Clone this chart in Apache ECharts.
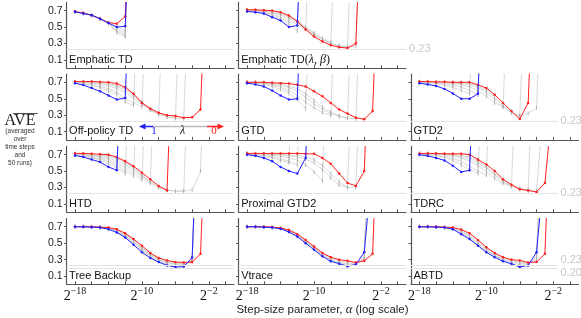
<!DOCTYPE html>
<html><head><meta charset="utf-8">
<script src="https://cdn.jsdelivr.net/npm/echarts@6/dist/echarts.min.js"></script>
<style>html,body{margin:0;padding:0;background:#fff}#c{width:581px;height:318px}</style>
</head><body><div id="c"></div>
<script>
// ---------- data (log2 step size starts at -18, one point per power of two; 3 / 1.5 = diverged) ----------
const xStart = -18;
const xTicks = [-18,-16,-14,-12,-10,-8,-6,-4,-2,0];
const xLabelTicks = [-18,-10,-2];
const yTicks = [0.1,0.3,0.5,0.7];
const refLines = [0.23, 0.20];
const panelNames = ['Emphatic TD','Emphatic TD(λ, β)','Off-policy TD','GTD','GTD2','HTD','Proximal GTD2','TDRC','Tree Backup','Vtrace','ABTD'];

const empTD_blue = [.685,.665,.645,.60,.55,.50,.51,3];
const empTD_red  = [.69,.67,.645,.60,.555,.54,.63,3];
const empTD_gray = [
  [.685,.667,.645,.60,.55,.50,.46,3],
  [.685,.667,.643,.598,.545,.47,.43,3],
  [.685,.666,.642,.597,.54,.45,.40,3],
  [.685,.668,.646,.602,.552,.43,.38,3]];

const empLB_blue = [.69,.68,.665,.62,.58,.50,.52,3];
const empLB_red  = [.71,.71,.705,.70,.68,.64,.57,.47,.385,.325,.28,.255,.245,.30,3];
const empLB_gray = [
  [.695,.685,.67,.64,.60,.54,.45,3],
  [.70,.695,.68,.655,.62,.575,.53,.47,3],
  [.705,.70,.69,.67,.645,.61,.555,.48,.41,.35,.30,3],
  [.705,.70,.695,.68,.66,.625,.57,.49,.42,.355,.30,.27,.255,3],
  [.71,.705,.70,.69,.67,.635,.58,.50,.43,.365,.31,.275,.26,.265,3]];

const offTD_blue = [.69,.667,.63,.59,.54,.49,.51,3];
const offTD_red  = [.71,.71,.71,.705,.70,.685,.64,.56,.45,.38,.33,.30,.29,.27,.275,.37,3];
const offTD_gray = [
  [.70,.685,.665,.635,.595,.55,.46,.42,3],
  [.70,.69,.675,.65,.62,.58,.50,.45,.40,3],
  [.705,.70,.69,.675,.655,.625,.575,.505,.43,.36,.31,3],
  [.705,.70,.695,.69,.675,.65,.605,.535,.45,.37,.31,.28,.26,3],
  [.71,.705,.70,.695,.685,.665,.625,.555,.46,.38,.32,.285,.265,.255,3]];

const gtd_blue = [.69,.675,.65,.60,.54,.49,.50,3];
const gtd_red  = [.70,.70,.70,.695,.69,.685,.67,.65,.59,.53,.45,.37,.32,.27,.25,.35,3];
const gtd_gray = [
  [.70,.69,.675,.65,.615,.565,.49,.38,3],
  [.70,.695,.685,.665,.64,.60,.54,.46,.39,.33,.30,3],
  [.70,.70,.69,.68,.66,.635,.59,.52,.44,.37,.32,.285,.265,3],
  [.70,.70,.695,.69,.675,.655,.62,.56,.48,.40,.34,.295,.265,.255,3]];

const gtd2_blue = [.69,.675,.655,.62,.565,.50,.50,.56,3];
const gtd2_red  = [.71,.71,.705,.705,.70,.70,.70,.67,.63,.55,.45,.35,.255,.45,3];
const gtd2_gray = [
  [.70,.69,.68,.665,.64,.60,.56,3],
  [.70,.695,.69,.68,.665,.64,.60,.55,3],
  [.705,.70,.70,.695,.685,.67,.645,.60,.53,.45,.40,3],
  [.705,.705,.70,.70,.695,.685,.67,.635,.575,.49,.40,.33,.30,3],
  [.71,.705,.70,.70,.70,.695,.685,.655,.60,.52,.42,.33,.29,.32,.39,3]];

const htd_blue = [.69,.67,.64,.61,.55,.51,3];
const htd_red  = [.715,.715,.71,.705,.70,.67,.62,.56,.48,.40,.32,.265,3];
const htd_gray = [
  [.70,.685,.66,.635,.59,.54,.47,3],
  [.70,.69,.67,.65,.615,.565,.505,.44,3],
  [.705,.695,.68,.665,.64,.595,.54,.47,.39,3],
  [.71,.70,.69,.68,.66,.625,.575,.505,.42,.35,3],
  [.71,.705,.70,.69,.68,.65,.60,.53,.44,.36,.30,.265,.255,.26,3],
  [.71,.705,.70,.695,.685,.66,.615,.545,.455,.37,.305,.27,.255,.255,.27,.50,3]];

const pgtd2_blue = [.70,.685,.66,.62,.55,.50,.47,.66,3];
const pgtd2_red  = [.715,.715,.715,.715,.715,.715,.715,.71,.71,.66,.59,.47,.355,.32,.50,3];
const pgtd2_gray = [
  [.705,.695,.68,.66,.63,.60,3],
  [.71,.70,.69,.675,.65,.62,.575,3],
  [.71,.705,.70,.69,.68,.66,.63,.575,.49,.38,3],
  [.715,.71,.705,.70,.695,.685,.67,.645,.60,.52,.42,.33,.30,3],
  [.715,.71,.71,.705,.70,.70,.69,.675,.64,.57,.47,.37,.30,.30,3]];

const tdrc_blue = [.70,.685,.66,.63,.565,.49,.51,3];
const tdrc_red  = [.715,.715,.715,.71,.71,.71,.70,.64,.58,.50,.40,.335,.28,.265,.245,.355,1.4];
const tdrc_gray = [
  [.705,.70,.69,.67,.63,.575,.52,.47,3],
  [.71,.705,.695,.68,.655,.615,.56,.50,.45,3],
  [.71,.71,.705,.70,.685,.66,.625,.565,.49,.41,.35,.31,3],
  [.715,.71,.705,.70,.695,.68,.655,.60,.53,.45,.37,.315,.285,.265,3],
  [.715,.71,.71,.705,.70,.69,.67,.62,.55,.46,.38,.32,.28,.26,.26,1.5]];

const tb_blue = [.70,.70,.695,.69,.67,.63,.57,.48,.39,.32,.27,.23,.21,.215,.325,3];
const tb_red  = [.70,.70,.70,.695,.69,.67,.62,.55,.47,.38,.32,.29,.27,.265,.27,.37,3];
const tb_gray = [
  [.70,.70,.697,.69,.675,.64,.58,.50,.41,.335,.28,.245,.225,.225,.30,3],
  [.70,.70,.698,.692,.68,.65,.59,.515,.425,.35,.29,.26,.24,.24,.29,3],
  [.70,.70,.699,.693,.683,.655,.60,.53,.44,.36,.30,.27,.25,.25,.28,3],
  [.70,.70,.70,.694,.686,.662,.61,.54,.455,.37,.31,.28,.26,.26,.275,3]];

const vt_blue = [.70,.70,.695,.69,.675,.635,.58,.50,.42,.34,.28,.25,.22,.24,.39,1.5];
const vt_red  = [.70,.70,.70,.695,.685,.66,.61,.54,.46,.38,.33,.30,.285,.265,.285,.37,3];
const vt_gray = [
  [.70,.70,.697,.69,.678,.64,.59,.51,.43,.35,.29,.26,.235,.245,.34,3],
  [.70,.70,.698,.692,.68,.645,.595,.52,.44,.36,.30,.27,.25,.25,.31,3],
  [.70,.70,.699,.693,.682,.65,.60,.53,.45,.37,.315,.285,.265,.255,.30,3]];

const abtd_blue = [.70,.70,.695,.69,.67,.61,.55,.47,.39,.33,.28,.25,.21,.23,.39,1.5];
const abtd_red  = [.70,.70,.70,.695,.69,.665,.62,.54,.45,.38,.33,.30,.29,.265,.27,.37,3];
const abtd_gray = [
  [.70,.70,.697,.69,.675,.625,.565,.485,.405,.345,.295,.265,.235,.24,.34,3],
  [.70,.70,.698,.692,.68,.64,.58,.50,.42,.355,.305,.28,.255,.25,.31,3],
  [.70,.70,.699,.693,.685,.65,.60,.52,.435,.365,.315,.29,.27,.26,.29,3]];

const blues = [empTD_blue,empLB_blue,offTD_blue,gtd_blue,gtd2_blue,htd_blue,pgtd2_blue,tdrc_blue,tb_blue,vt_blue,abtd_blue];
const reds  = [empTD_red,empLB_red,offTD_red,gtd_red,gtd2_red,htd_red,pgtd2_red,tdrc_red,tb_red,vt_red,abtd_red];
const grays = [empTD_gray,empLB_gray,offTD_gray,gtd_gray,gtd2_gray,htd_gray,pgtd2_gray,tdrc_gray,tb_gray,vt_gray,abtd_gray];

// ---------- layout ----------
const panelCol = [0,1,0,1,2,0,1,2,0,1,2];
const panelRow = [0,0,1,1,1,2,2,2,3,3,3];
const colLeft = [66.6, 238.7, 411];
const gridW = 167.4;
const rowBottom = [68.2, 139.9, 212.2, 284.3];
const gridH = 65.8;
const AX = '#555';
const SANS = 'Liberation Sans';
const SERIF = 'Liberation Serif';

const toPairs = arr => arr.map((v,i) => [xStart + i, v]);

const grid = [], xAxis = [], yAxis = [], series = [], graphic = [];
for (let p = 0; p < panelNames.length; p++) {
  const c = panelCol[p], r = panelRow[p];
  grid.push({left: colLeft[c], top: rowBottom[r] - gridH, width: gridW, height: gridH, containLabel: false, outerBoundsMode: 'none'});
  xAxis.push({
    type: 'value', gridIndex: p, min: -19, max: 1,
    axisLine: {show: true, onZero: false, lineStyle: {color: AX, width: 1.2}},
    axisTick: {show: true, customValues: xTicks, inside: true, length: 3, lineStyle: {color: AX, width: 1}},
    splitLine: {show: false},
    axisLabel: {
      show: r === 3, customValues: xLabelTicks, margin: 3,
      formatter: v => '{b|2}{s|−' + Math.abs(v) + '}',
      rich: {
        b: {fontFamily: SERIF, fontSize: 14, color: '#111', verticalAlign: 'bottom', lineHeight: 16},
        s: {fontFamily: SERIF, fontSize: 10, color: '#111', verticalAlign: 'bottom', lineHeight: 16, padding: [0,0,7,0]}
      }
    }
  });
  yAxis.push({
    type: 'value', gridIndex: p, min: 0, max: 0.8,
    axisLine: {show: true, onZero: false, lineStyle: {color: AX, width: 1.2}},
    axisTick: {show: true, customValues: yTicks, length: 2.5, lineStyle: {color: AX, width: 1}},
    splitLine: {show: false},
    axisLabel: {show: c === 0, customValues: yTicks, formatter: v => v.toFixed(1), fontFamily: SANS, fontSize: 10.5, color: '#222', margin: 4}
  });

  const refs = r === 3 ? refLines : [refLines[0]];
  const labelled = (c === 2) || (p === 1);
  const xEnd = c === 2 ? -1.5 : 1;
  const mlData = refs.map((rv, j) => {
    let fmt = rv.toFixed(2);
    if (refs.length === 2) fmt = j === 0 ? fmt + '\n ' : ' \n' + fmt;
    return [
      {coord: [-19, rv]},
      {coord: [xEnd, rv], label: {
        show: labelled, position: 'end', distance: 3, formatter: fmt,
        color: '#c8c8c8', fontFamily: SANS, fontSize: 11, lineHeight: 10
      }}
    ];
  });

  grays[p].forEach((g, k) => {
    const s = {
      type: 'line', xAxisIndex: p, yAxisIndex: p, data: toPairs(g),
      symbol: 'rect', symbolSize: [0.8, 4], showSymbol: true, showAllSymbol: true,
      lineStyle: {color: '#c8c8c8', width: 0.7}, itemStyle: {color: '#a8a8a8'},
      z: 2, silent: true, clip: true, animation: false
    };
    if (k === 0) s.markLine = {
      silent: true, symbol: ['none','none'], animation: false,
      lineStyle: {color: '#e3e3e3', width: 1, type: 'solid'},
      label: {show: false}, emphasis: {disabled: true}, data: mlData
    };
    series.push(s);
  });
  series.push({type: 'line', xAxisIndex: p, yAxisIndex: p, data: toPairs(reds[p]),
    symbol: 'circle', symbolSize: 2.5, showAllSymbol: true,
    lineStyle: {color: '#ff2020', width: 1}, itemStyle: {color: '#ff2020'},
    z: 3, silent: true, clip: true, animation: false});
  series.push({type: 'line', xAxisIndex: p, yAxisIndex: p, data: toPairs(blues[p]),
    symbol: 'circle', symbolSize: 2.5, showAllSymbol: true,
    lineStyle: {color: '#2020ff', width: 1}, itemStyle: {color: '#2020ff'},
    z: 4, silent: true, clip: true, animation: false});

  // panel name
  const txt = p === 1 ? '{n|Emphatic TD}{p|(}{m|λ, β}{p|)}' : panelNames[p];
  graphic.push({type: 'text', x: colLeft[c] + 2.5, y: rowBottom[r] - 8.5, z: 10, silent: true,
    style: {text: txt, fill: '#111', font: '11px "' + SANS + '"', align: 'left', verticalAlign: 'middle',
      rich: {n: {fontFamily: SANS, fontSize: 11, fill: '#111'}, p: {fontFamily: SERIF, fontSize: 12, fill: '#111'}, m: {fontFamily: SERIF, fontStyle: 'italic', fontSize: 12, fill: '#111'}}}});
}

// lambda annotation in Off-policy TD panel
const ay = 126.5;
graphic.push({type: 'line', shape: {x1: 152, y1: ay, x2: 208, y2: ay}, style: {stroke: '#bdbdbd', lineWidth: 1.5}, silent: true});
graphic.push({type: 'line', shape: {x1: 143, y1: ay, x2: 153, y2: ay}, style: {stroke: '#2020ff', lineWidth: 1.5}, silent: true});
graphic.push({type: 'polygon', shape: {points: [[139, ay], [145.5, ay - 3], [145.5, ay + 3]]}, style: {fill: '#2020ff'}, silent: true});
graphic.push({type: 'line', shape: {x1: 207, y1: ay, x2: 219, y2: ay}, style: {stroke: '#ff2020', lineWidth: 1.5}, silent: true});
graphic.push({type: 'polygon', shape: {points: [[224, ay], [217.5, ay - 3], [217.5, ay + 3]]}, style: {fill: '#ff2020'}, silent: true});
graphic.push({type: 'text', x: 154, y: 131, style: {text: '1', fill: '#2020ff', font: '11px "' + SERIF + '"', align: 'center', verticalAlign: 'middle'}, silent: true});
graphic.push({type: 'text', x: 182.5, y: 131, style: {text: 'λ', fill: '#222', font: 'italic 12px "' + SERIF + '"', align: 'center', verticalAlign: 'middle'}, silent: true});
graphic.push({type: 'text', x: 214, y: 131, style: {text: '0', fill: '#ff2020', font: '11px "' + SERIF + '"', align: 'center', verticalAlign: 'middle'}, silent: true});

// y-axis title
graphic.push({type: 'text', x: 20, y: 121, style: {text: 'AVE', fill: '#222', font: '16px "' + SERIF + '"', align: 'center', verticalAlign: 'middle'}, silent: true});
graphic.push({type: 'line', shape: {x1: 13, y1: 113.5, x2: 37.5, y2: 113.5}, style: {stroke: '#222', lineWidth: 0.8}, silent: true});
['(averaged', 'over', 'time steps', 'and', '50 runs)'].forEach((t, i) => {
  graphic.push({type: 'text', x: 20, y: 131 + 8 * i, style: {text: t, fill: '#333', font: '6.5px "' + SANS + '"', align: 'center', verticalAlign: 'middle'}, silent: true});
});
// x-axis title
graphic.push({type: 'text', x: 322.5, y: 309.5, silent: true, style: {
  text: '{n|Step-size parameter, }{m|α}{n| (log scale)}', align: 'center', verticalAlign: 'middle',
  rich: {n: {fontFamily: SANS, fontSize: 11.5, fill: '#222'}, m: {fontFamily: SERIF, fontStyle: 'italic', fontSize: 12.5, fill: '#222'}}}});

const chart = echarts.init(document.getElementById('c'), null, {renderer: 'canvas'});
chart.setOption({animation: false, backgroundColor: '#fff', grid, xAxis, yAxis, series, graphic});
</script></body></html>
